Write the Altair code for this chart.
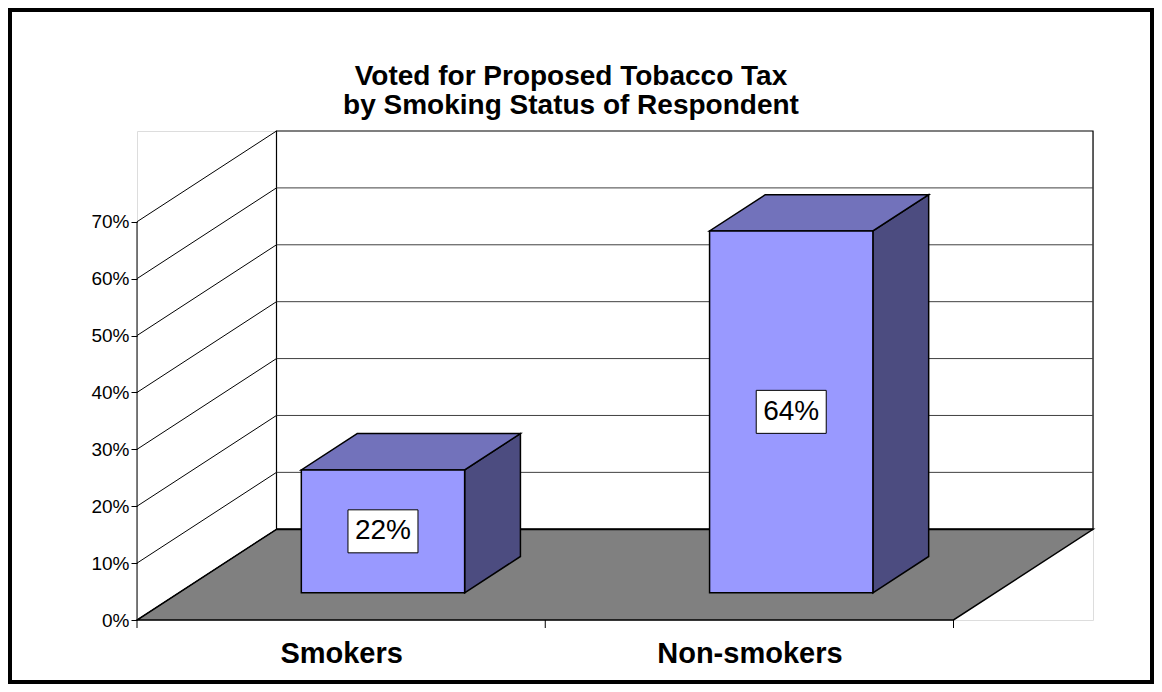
import altair as alt
import pandas as pd

# ---------------- data ----------------
categories = ["Smokers", "Non-smokers"]
values = [21.6, 63.6]            # percent (bar heights)
value_labels = ["22%", "64%"]    # printed data labels
y_ticks = [0, 10, 20, 30, 40, 50, 60, 70]
title_lines = ["Voted for Proposed Tobacco Tax", "by Smoking Status of Respondent"]

# ---------------- 3D projection settings ----------------
n = len(categories)
YMAX = y_ticks[-1]
DX, DY = 0.3417, 15.95      # full depth offset (band units, percent units)
Z0, Z1 = 0.3, 0.7           # bar depth range
B0, B1 = 0.3, 0.7           # bar span within band
BAND_PX, PCT_PX = 408.3, 5.686
W = round((n + DX) * BAND_PX)
H = round((YMAX + DY) * PCT_PX)
CANVAS_W, CANVAS_H = 1146, 676
PAD = {"left": 129, "top": 123, "right": CANVAS_W - 129 - W, "bottom": CANVAS_H - 123 - H}
FONT = "Liberation Sans"

FRONT, TOP, SIDE, FLOOR = "#9999ff", "#7272bb", "#4c4c80", "#808080"

xscale = alt.Scale(domain=[0, n + DX], nice=False, zero=False)
yscale = alt.Scale(domain=[0, YMAX + DY], nice=False, zero=False)

label_expr = "".join(f"datum.value < {i + 1} ? '{c}' : " for i, c in enumerate(categories[:-1])) + f"'{categories[-1]}'"

xaxis = alt.Axis(values=[i + 0.5 for i in range(n)], labelExpr=label_expr, domain=False, ticks=False,
                 grid=False, title=None, labelFont=FONT, labelFontSize=29, labelFontWeight="bold",
                 labelColor="black", labelPadding=19, labelLimit=600)
yaxis = alt.Axis(values=y_ticks, labelExpr="datum.value + '%'", domain=False, grid=False, title=None,
                 tickColor="black", tickSize=6, tickWidth=1, labelFont=FONT, labelFontSize=19,
                 labelColor="black", labelPadding=2)


def X():
    return alt.X("x:Q", scale=xscale, axis=xaxis)


def Y():
    return alt.Y("y:Q", scale=yscale, axis=yaxis)


# floor
floor_df = pd.DataFrame({"y": [0, DY], "x": [0, DX], "x2": [n, n + DX]})
floor = alt.Chart(floor_df).mark_area(orient="horizontal", fill=FLOOR, stroke="black", strokeWidth=1.5).encode(
    y=Y(), x=X(), x2="x2:Q")

# back wall
wall_df = pd.DataFrame({"x": [DX], "x2": [n + DX], "y": [DY], "y2": [YMAX + DY]})
wall = alt.Chart(wall_df).mark_rect(fill="white", stroke="black", strokeWidth=1.2).encode(
    x=X(), x2="x2:Q", y=Y(), y2="y2:Q")

# back-wall gridlines
grid_df = pd.DataFrame({"x": [DX] * (len(y_ticks) - 2), "x2": [n + DX] * (len(y_ticks) - 2),
                        "y": [v + DY for v in y_ticks[1:-1]], "y2": [v + DY for v in y_ticks[1:-1]]})
grid = alt.Chart(grid_df).mark_rule(color="#404040", strokeWidth=1).encode(x=X(), x2="x2:Q", y=Y(), y2="y2:Q")

seam_df = pd.DataFrame({"x": [DX], "x2": [n + DX], "y": [DY], "y2": [DY]})
seam = alt.Chart(seam_df).mark_rule(color="black", strokeWidth=2.2).encode(x=X(), x2="x2:Q", y=Y(), y2="y2:Q")

# left wall diagonals + axis line
left_df = pd.DataFrame({"x": [0] * len(y_ticks), "x2": [DX] * len(y_ticks),
                        "y": y_ticks, "y2": [v + DY for v in y_ticks]})
left = alt.Chart(left_df).mark_rule(color="black", strokeWidth=1).encode(x=X(), x2="x2:Q", y=Y(), y2="y2:Q")
axis_df = pd.DataFrame({"x": [0], "x2": [0], "y": [0], "y2": [YMAX]})
axis_line = alt.Chart(axis_df).mark_rule(color="black", strokeWidth=1).encode(x=X(), x2="x2:Q", y=Y(), y2="y2:Q")

# category boundary ticks on front edge
tick_df = pd.DataFrame({"x": list(range(n + 1)), "y": [0] * (n + 1)})
ticks = alt.Chart(tick_df).mark_rule(color="black", strokeWidth=1).encode(x=X(), y=Y(), y2=alt.value(H + 8))

# bars
front_rows, side_rows, top_rows, lab_rows = [], [], [], []
for i, v in enumerate(values):
    front_rows.append({"x": i + B0 + Z0 * DX, "x2": i + B1 + Z0 * DX, "y": Z0 * DY, "y2": v + Z0 * DY})
    for z in (Z0, Z1):
        side_rows.append({"bar": i, "x": i + B1 + z * DX, "y": z * DY, "y2": v + z * DY})
        top_rows.append({"bar": i, "y": v + z * DY, "x": i + B0 + z * DX, "x2": i + B1 + z * DX})
    lab_rows.append({"x": i + 0.5 + Z0 * DX, "y": v / 2 + Z0 * DY, "text": value_labels[i]})

side = alt.Chart(pd.DataFrame(side_rows)).mark_area(orient="vertical", fill=SIDE, stroke="black", strokeWidth=1.5).encode(
    x=X(), y=Y(), y2="y2:Q", detail="bar:N")
top = alt.Chart(pd.DataFrame(top_rows)).mark_area(orient="horizontal", fill=TOP, stroke="black", strokeWidth=1.5).encode(
    y=Y(), x=X(), x2="x2:Q", detail="bar:N")
front = alt.Chart(pd.DataFrame(front_rows)).mark_rect(fill=FRONT, stroke="black", strokeWidth=1.5).encode(
    x=X(), x2="x2:Q", y=Y(), y2="y2:Q")

lab_df = pd.DataFrame(lab_rows)
box = alt.Chart(lab_df).mark_rect(width=70, height=43, fill="white", stroke="black", strokeWidth=1).encode(x=X(), y=Y())
text = alt.Chart(lab_df).mark_text(font=FONT, fontSize=28, color="black", baseline="middle", align="center").encode(
    x=X(), y=Y(), text="text:N")

# chart title (two lines) as a text mark so the page border does not push it out
title = alt.Chart(pd.DataFrame({"a": [0]})).mark_text(
    text=title_lines, font=FONT, fontSize=28, fontWeight="bold", color="black",
    align="center", baseline="top", lineHeight=29).encode(
    x=alt.value(434), y=alt.value(-68))

# outer border
border = alt.Chart(pd.DataFrame({"a": [0]})).mark_rect(fill="white", fillOpacity=0, stroke="black", strokeWidth=4).encode(
    x=alt.value(-PAD["left"] + 2), x2=alt.value(W + PAD["right"] - 2),
    y=alt.value(-PAD["top"] + 2), y2=alt.value(H + PAD["bottom"] - 2))

chart = alt.layer(floor, wall, grid, seam, left, axis_line, ticks, side, top, front, box, text, title, border).properties(
    width=W, height=H, padding=PAD, autosize=alt.AutoSizeParams(type="none"),
).configure_view(stroke=None).configure(background="white")

chart.save("out.html", embed_options={"renderer": "svg", "actions": False})
